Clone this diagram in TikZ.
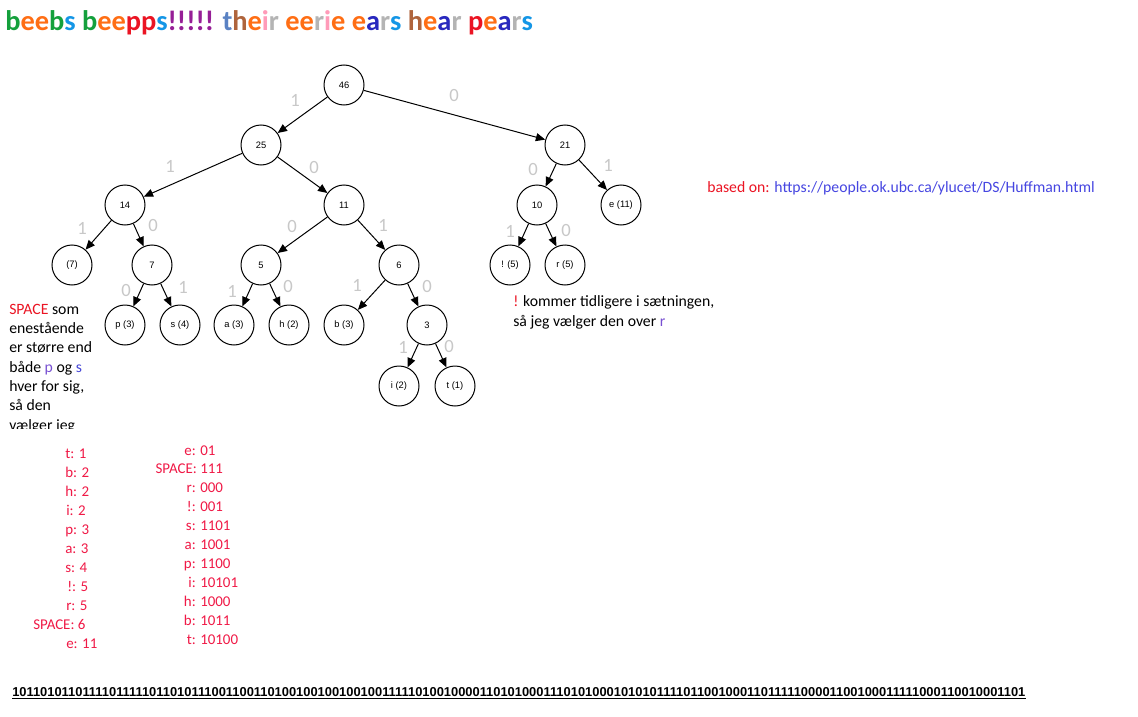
\documentclass[tikz,border=0pt]{standalone}
\usepackage{fontspec}
\setmainfont{Carlito}
\newfontfamily\arialfont{Liberation Sans}
\usetikzlibrary{arrows.meta}

\definecolor{tgreen}{RGB}{20,160,60}
\definecolor{torange}{RGB}{255,110,20}
\definecolor{tsky}{RGB}{20,150,230}
\definecolor{tred}{RGB}{235,20,35}
\definecolor{tpurple}{RGB}{150,30,150}
\definecolor{tsteel}{RGB}{90,130,195}
\definecolor{tbrown}{RGB}{175,100,60}
\definecolor{tpink}{RGB}{255,155,185}
\definecolor{tgray}{RGB}{180,180,180}
\definecolor{tnavy}{RGB}{40,40,190}
\definecolor{tblred}{RGB}{240,25,70}
\definecolor{bitgray}{RGB}{200,200,200}
\definecolor{notepurple}{RGB}{120,80,210}
\definecolor{noteblue}{RGB}{70,70,215}
\definecolor{urlblue}{RGB}{70,70,225}

\begin{document}
\begin{tikzpicture}[
        x=0.75pt, y=-0.75pt,
        hnode/.style={circle, draw, line width=0.75pt, minimum size=30pt, inner sep=0pt, font=\arialfont\fontsize{7}{8}\selectfont},
        hedge/.style={-{Triangle[length=7pt,width=6pt]}, line width=0.75pt},
        bit/.style={text=bitgray, font=\fontsize{14}{16}\selectfont},
        tbl/.style={anchor=base west, inner sep=0pt, text=tblred, font=\fontsize{11.2}{13}\selectfont},
        note/.style={anchor=base west, inner sep=0pt, align=left, font=\fontsize{11.8}{14.5}\selectfont}
    ]
        \useasboundingbox[fill=white] (0,0) rectangle (1138,717);

        % Title
        \node[anchor=base west, inner sep=0pt, font=\bfseries\fontsize{21.3}{25}\selectfont] (title) at (5,31)
            {{\color{tgreen}b}{\color{torange}ee}{\color{tgreen}b}{\color{tsky}s} {\color{tgreen}b}{\color{torange}ee}{\color{tred}pp}{\color{tsky}s}{\color{tpurple}!!!!!}
             {\color{tsteel}t}{\color{tbrown}h}{\color{torange}e}{\color{tpink}i}{\color{tgray}r}
             {\color{torange}ee}{\color{tgray}r}{\color{tpink}i}{\color{torange}e}
             {\color{torange}e}{\color{tnavy}a}{\color{tgray}r}{\color{tsky}s}
             {\color{tbrown}h}{\color{torange}e}{\color{tnavy}a}{\color{tgray}r}
             {\color{tred}p}{\color{torange}e}{\color{tnavy}a}{\color{tgray}r}{\color{tsky}s}};

        % Huffman tree
        \node[hnode] (n46) at (344,85) {46};
        \node[hnode] (n25) at (261,145) {25};
        \node[hnode] (n21) at (565,145) {21};
        \node[hnode] (n14) at (125,205) {14};
        \node[hnode] (n11) at (344,205) {11};
        \node[hnode] (n10) at (537,205) {10};
        \node[hnode] (le) at (621,205) {e (11)};
        \node[hnode] (lspace) at (72,265) {(7)};
        \node[hnode] (n7) at (152,265) {7};
        \node[hnode] (n5) at (261,265) {5};
        \node[hnode] (n6) at (399,265) {6};
        \node[hnode] (lexcl) at (510,265) {! (5)};
        \node[hnode] (lr) at (565,265) {r (5)};
        \node[hnode] (lp) at (125,325) {p (3)};
        \node[hnode] (ls) at (180,325) {s (4)};
        \node[hnode] (la) at (234,325) {a (3)};
        \node[hnode] (lh) at (289,325) {h (2)};
        \node[hnode] (lb) at (344,325) {b (3)};
        \node[hnode] (n3) at (427,325) {3};
        \node[hnode] (li) at (399,386) {i (2)};
        \node[hnode] (lt) at (455,386) {t (1)};

        \draw[hedge] (n46) -- (n25);
        \draw[hedge] (n46) -- (n21);
        \draw[hedge] (n25) -- (n14);
        \draw[hedge] (n25) -- (n11);
        \draw[hedge] (n21) -- (n10);
        \draw[hedge] (n21) -- (le);
        \draw[hedge] (n14) -- (lspace);
        \draw[hedge] (n14) -- (n7);
        \draw[hedge] (n11) -- (n5);
        \draw[hedge] (n11) -- (n6);
        \draw[hedge] (n10) -- (lexcl);
        \draw[hedge] (n10) -- (lr);
        \draw[hedge] (n7) -- (lp);
        \draw[hedge] (n7) -- (ls);
        \draw[hedge] (n5) -- (la);
        \draw[hedge] (n5) -- (lh);
        \draw[hedge] (n6) -- (lb);
        \draw[hedge] (n6) -- (n3);
        \draw[hedge] (n3) -- (li);
        \draw[hedge] (n3) -- (lt);

        % Bit labels
        \foreach \bb/\xx/\yy [count=\i] in {1/295/100, 0/454/96, 1/170/166, 0/314/168,
                0/533/170, 1/608/165, 1/82/228, 0/153/226, 0/292/227, 1/383/225,
                1/510/231, 0/566/231, 0/126/291, 1/183/287, 1/232/291, 0/288/287,
                1/357/285, 0/427/287, 1/403/347, 0/449/347}
            \node[bit] (bit\i) at (\xx,\yy) {\bb};

        % Notes
        \node[note] (basedon) at (707,192) {{\color{tred}based on:} {\color{urlblue}https://people.ok.ubc.ca/ylucet/DS/Huffman.html}};
        \node[note] (exclnote) at (513,326) {{\color{tred}!} kommer tidligere i sætningen,\\så jeg vælger den over {\color{notepurple}r}};
        \begin{scope}
            \clip (0,296) rectangle (130,428);
            \node[note] (spacenote) at (9,430) {{\color{tred}SPACE} som\\enestående\\er større end\\både {\color{notepurple}p} og {\color{noteblue}s}\\hver for sig,\\så den\\vælger jeg};
        \end{scope}

        % Frequencies
        \foreach \txt/\xx/\yy [count=\i] in {t: 1/65/458, b: 2/65/477, h: 2/65/496, i: 2/66/515,
                p: 3/65/534, a: 3/65/553, s: 4/65/572, !: 5/67/591, r: 5/66/610,
                SPACE: 6/33/629, e: 11/66/648}
            \node[tbl] (freq\i) at (\xx,\yy) {\txt};

        % Codes
        \foreach \ch/\code/\yy [count=\i] in {e/01/455, SPACE/111/473, r/000/492, !/001/511,
                s/1101/530, a/1001/549, p/1100/568, i/10101/587, h/1000/606,
                b/1011/625, t/10100/644}
            \node[tbl] (code\i) at (200,\yy) {\llap{\ch: }\code};

        % Encoded sentence
        \node[anchor=base west, inner sep=0pt, font=\arialfont\bfseries\fontsize{9.67}{11}\selectfont] (encoded) at (12,696)
            {\underline{1011010110111101111101101011100110011010010010010010011111010010000110101000111010100010101011110110010001101111100001100100011111000110010001101}};

    \end{tikzpicture}
\end{document}
